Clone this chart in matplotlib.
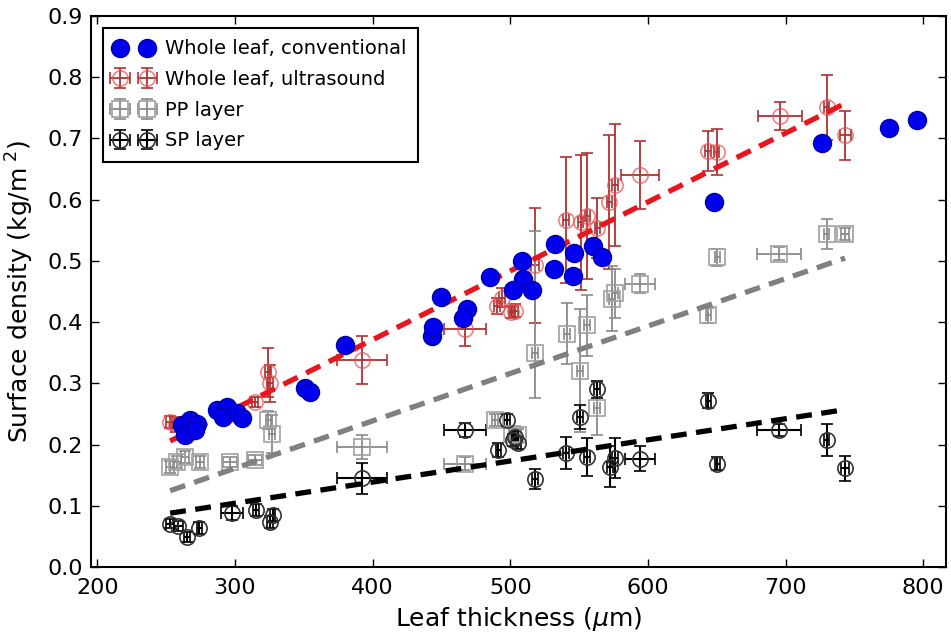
import numpy as np
import matplotlib
matplotlib.use("Agg")
import matplotlib.pyplot as plt

# whole leaf, conventional (no error bars)
conv_x = [261.5, 267.5, 272.4, 263.9, 271.2, 286.9, 294.2, 291.7, 301.5, 305.1,
          351.1, 354.7, 380.1, 449.6, 468.5, 466.0, 443.0, 444.0, 485.4, 508.4,
          509.1, 502.3, 515.7, 532.6, 546.4, 531.9, 545.5, 560.0, 566.5, 648.3,
          726.3, 775.4, 795.7]
conv_y = [0.232, 0.240, 0.234, 0.215, 0.224, 0.256, 0.262, 0.245, 0.251, 0.243,
          0.292, 0.286, 0.362, 0.441, 0.422, 0.406, 0.378, 0.392, 0.474, 0.500,
          0.471, 0.452, 0.452, 0.527, 0.513, 0.486, 0.476, 0.525, 0.506, 0.596,
          0.693, 0.717, 0.730]

# whole leaf, ultrasound
us_x = [253.0, 257.0, 314.7, 324.2, 325.5, 392.2, 467.2, 490.3, 494.0, 500.8,
        503.6, 518.1, 540.6, 551.2, 556.1, 563.3, 572.0, 576.2, 594.3, 643.5,
        650.0, 696.0, 729.9, 743.2]
us_y = [0.237, 0.233, 0.270, 0.318, 0.300, 0.338, 0.388, 0.427, 0.440, 0.417,
        0.419, 0.493, 0.567, 0.563, 0.574, 0.554, 0.596, 0.624, 0.640, 0.680,
        0.678, 0.737, 0.751, 0.705]
us_xerr = [3, 3, 2, 2, 2, 18, 15, 2, 2, 2, 2, 3, 2, 2, 2, 2, 2, 2, 14, 2, 2, 16, 2, 4]
us_yerr = [0.01, 0.012, 0.008, 0.04, 0.03, 0.039, 0.027, 0.013, 0.015, 0.01,
           0.01, 0.094, 0.103, 0.11, 0.103, 0.049, 0.11, 0.10, 0.056, 0.033,
           0.038, 0.023, 0.053, 0.04]

# PP layer
pp_x = [253.0, 257.9, 263.9, 274.8, 296.6, 314.7, 324.4, 326.9, 392.2, 467.2,
        489.0, 501.0, 505.9, 518.1, 541.1, 550.8, 555.6, 562.9, 573.8, 576.2,
        594.3, 644.0, 650.4, 695.5, 729.9, 743.2]
pp_y = [0.164, 0.172, 0.180, 0.172, 0.172, 0.175, 0.240, 0.218, 0.196, 0.169,
        0.240, 0.218, 0.215, 0.349, 0.381, 0.321, 0.395, 0.259, 0.438, 0.447,
        0.463, 0.411, 0.506, 0.512, 0.544, 0.544]
pp_xerr = [3, 3, 3, 3, 5, 5, 2, 2, 18, 15, 2, 2, 2, 2, 2, 2, 2, 2, 2, 2, 11, 2, 2, 16, 2, 3]
pp_yerr_lo = [0.01, 0.01, 0.01, 0.01, 0.008, 0.008, 0.015, 0.031, 0.02, 0.01,
              0.01, 0.01, 0.01, 0.073, 0.05, 0.1, 0.05, 0.044, 0.053, 0.04,
              0.016, 0.012, 0.014, 0.01, 0.024, 0.01]
pp_yerr_hi = [0.01, 0.01, 0.01, 0.01, 0.008, 0.008, 0.015, 0.031, 0.02, 0.01,
              0.01, 0.01, 0.01, 0.2, 0.05, 0.1, 0.05, 0.044, 0.053, 0.04,
              0.016, 0.012, 0.014, 0.01, 0.024, 0.01]

# SP layer
sp_x = [253.0, 259.0, 265.1, 274.3, 297.8, 315.5, 325.6, 327.5, 392.2, 467.2,
        491.4, 497.5, 502.3, 505.9, 503.6, 518.1, 540.6, 550.8, 555.6, 562.9,
        572.5, 576.2, 594.3, 644.0, 650.4, 695.5, 729.9, 743.2]
sp_y = [0.071, 0.067, 0.049, 0.064, 0.088, 0.093, 0.074, 0.085, 0.145, 0.224,
        0.191, 0.240, 0.207, 0.202, 0.212, 0.144, 0.186, 0.245, 0.180, 0.290,
        0.164, 0.178, 0.177, 0.272, 0.169, 0.224, 0.207, 0.161]
sp_xerr = [3, 3, 2, 2, 8, 2, 2, 2, 18, 15, 2, 2, 2, 2, 2, 2, 2, 2, 2, 2, 2, 2, 11, 2, 2, 16, 2, 3]
sp_yerr = [0.008, 0.008, 0.008, 0.01, 0.012, 0.01, 0.01, 0.01, 0.025, 0.012,
           0.012, 0.01, 0.01, 0.01, 0.01, 0.016, 0.026, 0.02, 0.031, 0.014,
           0.033, 0.033, 0.02, 0.013, 0.01, 0.01, 0.026, 0.02]

# linear fits (slope, intercept): ultrasound, PP, SP
fit_slope = [0.001125, 0.000775, 0.000345]
fit_intercept = [-0.0788, -0.0714, 0.0007]

fig = plt.figure(figsize=(9.51, 6.41), dpi=100)
ax = fig.add_axes([0.0957, 0.1154, 0.8990, 0.8596])

eb_us = ax.errorbar(us_x, us_y, xerr=us_xerr, yerr=us_yerr, fmt='o', ms=11,
                    mfc='none', mec=(0.9, 0.3, 0.3, 0.7), mew=1.2,
                    ecolor='#b03030', elinewidth=1.3, capsize=4, capthick=1.3,
                    label='Whole leaf, ultrasound', zorder=3)
eb_pp = ax.errorbar(pp_x, pp_y, xerr=pp_xerr, yerr=[pp_yerr_lo, pp_yerr_hi],
                    fmt='s', ms=11, mfc='none', mec='#a0a0a0', mew=1.2,
                    ecolor='#8a8a8a', elinewidth=1.3, capsize=4, capthick=1.3,
                    label='PP layer', zorder=3)
eb_sp = ax.errorbar(sp_x, sp_y, xerr=sp_xerr, yerr=sp_yerr, fmt='o', ms=11,
                    mfc='none', mec='#333333', mew=1.2,
                    ecolor='black', elinewidth=1.5, capsize=4, capthick=1.5,
                    label='SP layer', zorder=3)
conv, = ax.plot(conv_x, conv_y, 'o', ms=13, color='#0000ee', mec='#0000aa',
                mew=1.0, label='Whole leaf, conventional', zorder=5)

fit_colors = ['#e8141e', '#808080', 'black']
fit_x = [us_x, pp_x, sp_x]
for xs, k, b, c in zip(fit_x, fit_slope, fit_intercept, fit_colors):
    xx = np.array([min(xs), max(xs)])
    ax.plot(xx, k * xx + b, '--', color=c, lw=3.8, dashes=(3, 1.8), zorder=4)

ax.set_xlim(195.5, 816.5)
ax.set_ylim(0, 0.9)
ax.set_xticks(range(200, 801, 100))
ax.set_yticks(np.arange(0, 0.91, 0.1))
ax.yaxis.set_major_formatter(matplotlib.ticker.FormatStrFormatter('%.1f'))
ax.tick_params(direction='in', top=True, right=True, length=6, width=1,
               labelsize=16)
ax.tick_params(axis='x', pad=8)
ax.tick_params(axis='y', pad=6)
for s in ax.spines.values():
    s.set_linewidth(1.5)

ax.set_xlabel(r'Leaf thickness ($\mu$m)', fontsize=18, labelpad=5)
ax.set_ylabel(r'Surface density (kg/m$^{\ 2}$)', fontsize=18, labelpad=8)

leg = ax.legend(handles=[conv, eb_us, eb_pp, eb_sp], loc='upper left',
                numpoints=2, fontsize=14, fancybox=False, framealpha=1,
                edgecolor='black', handlelength=2.0, handletextpad=0.6,
                borderaxespad=0.6, labelspacing=0.6, borderpad=0.6)
leg.get_frame().set_linewidth(1.5)

fig.savefig('out.png', dpi=100)
